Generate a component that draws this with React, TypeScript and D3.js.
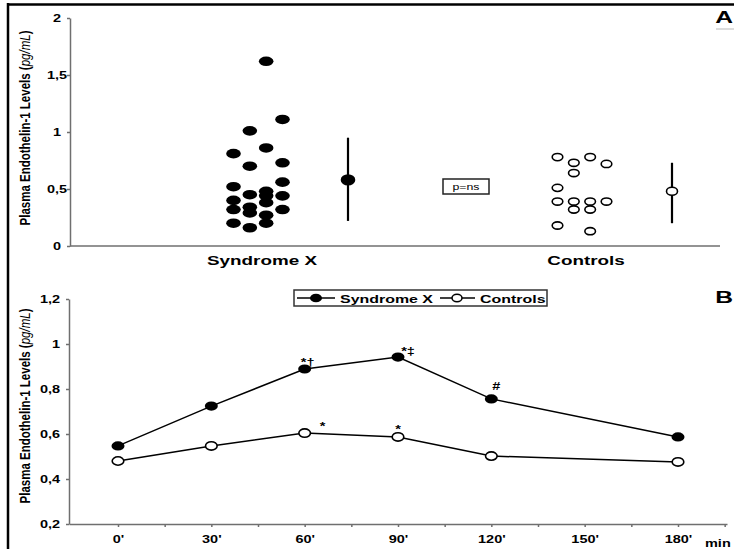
import React, { useEffect, useRef } from "react";
import * as d3 from "d3";

// panel A: individual values, grouped by the column each dot sits in
const categories = ["Syndrome X", "Controls"];
const syndromeXColumns = [
  [0.81, 0.52, 0.4, 0.32, 0.2],
  [1.01, 0.7, 0.45, 0.34, 0.29, 0.16],
  [1.62, 0.86, 0.48, 0.44, 0.38, 0.27, 0.2],
  [1.11, 0.73, 0.56, 0.44, 0.32],
];
const controlsColumns = [
  [0.78, 0.51, 0.39, 0.18],
  [0.73, 0.64, 0.39, 0.32],
  [0.78, 0.39, 0.32, 0.13],
  [0.72, 0.39],
];
const groupMeans = [0.58, 0.48];
const groupLow = [0.22, 0.2];
const groupHigh = [0.95, 0.73];
const topTicks = [0, 0.5, 1, 1.5, 2];

// panel B: time course
const minutes = [0, 30, 60, 90, 120, 180];
const syndromeXSeries = [0.547, 0.724, 0.889, 0.942, 0.756, 0.587];
const controlsSeries = [0.48, 0.547, 0.604, 0.587, 0.502, 0.476];
const syndromeXMarks = ["", "", "*†", "*‡", "#", ""];
const controlsMarks = ["", "", "*", "*", "", ""];
const bottomTicks = [0.2, 0.4, 0.6, 0.8, 1, 1.2];
const minuteTicks = d3.range(0, 196, 15);

const FONT = "'Liberation Sans', Arial, sans-serif";
const SX = 1.45; // the figure is stretched sideways
const AXIS = "#6f6f6f";

const App = () => {
  const ref = useRef<SVGSVGElement>(null);

  useEffect(() => {
    const svg = d3.select(ref.current);
    svg.selectAll("*").remove();
    svg.attr("font-family", FONT);

    const fmt = d3
      .formatLocale({ decimal: ",", thousands: ".", grouping: [3], currency: ["", ""] })
      .format("~g");

    const text = (x: number, y: number, s: string, size: number, anchor = "middle", weight = "bold") =>
      svg
        .append("text")
        .attr("transform", `translate(${x},${y}) scale(${SX},1)`)
        .attr("text-anchor", anchor)
        .attr("font-size", size)
        .attr("font-weight", weight)
        .attr("fill", "#000")
        .text(s);

    //frame
    svg.append("line").attr("x1", 7).attr("x2", 734).attr("y1", 4.5).attr("y2", 4.5).attr("stroke", "#000").attr("stroke-width", 2.5);
    svg.append("line").attr("x1", 8).attr("x2", 8).attr("y1", 3).attr("y2", 549).attr("stroke", "#000").attr("stroke-width", 2.5);

    // ---------- panel A ----------
    const yTop = d3.scaleLinear().domain([0, 2]).range([246, 18]);
    const xCat = d3.scalePoint().domain(categories).range([258, 582]);
    const xCol = d3.scalePoint<number>().domain(d3.range(4)).range([-24.5, 24.5]);

    const yAxisTop = svg
      .append("g")
      .attr("transform", "translate(70,0)")
      .call(d3.axisLeft(yTop).tickValues(topTicks).tickFormat((d) => fmt(d as number)).tickSize(3).tickSizeOuter(0));
    yAxisTop.selectAll("path, line").attr("stroke", AXIS).attr("stroke-width", 1.5);
    yAxisTop
      .selectAll(".tick text")
      .attr("transform", `scale(${SX},1)`)
      .attr("x", -13 / SX)
      .attr("text-anchor", "middle")
      .attr("font-size", 10)
      .attr("font-weight", "bold")
      .attr("font-family", FONT)
      .attr("fill", "#000");

    svg.append("line").attr("x1", 70).attr("x2", 720).attr("y1", 246).attr("y2", 246).attr("stroke", AXIS).attr("stroke-width", 1.5);

    categories.forEach((c) => text(xCat(c)! + 4, 265, c, 13));

    svg
      .append("g")
      .selectAll("ellipse")
      .data(syndromeXColumns.flatMap((col, i) => col.map((v) => ({ v, i }))))
      .join("ellipse")
      .attr("cx", (d) => xCat("Syndrome X")! + xCol(d.i)!)
      .attr("cy", (d) => yTop(d.v))
      .attr("rx", 7.3)
      .attr("ry", 4.8)
      .attr("fill", "#000");

    svg
      .append("g")
      .selectAll("ellipse")
      .data(controlsColumns.flatMap((col, i) => col.map((v) => ({ v, i }))))
      .join("ellipse")
      .attr("cx", (d) => xCat("Controls")! + xCol(d.i)!)
      .attr("cy", (d) => yTop(d.v))
      .attr("rx", 5.3)
      .attr("ry", 3.6)
      .attr("fill", "#fff")
      .attr("stroke", "#000")
      .attr("stroke-width", 1.6);

    categories.forEach((c, i) => {
      const mx = xCat(c)! + 90;
      svg.append("line").attr("x1", mx).attr("x2", mx).attr("y1", yTop(groupLow[i])).attr("y2", yTop(groupHigh[i])).attr("stroke", "#000").attr("stroke-width", 2.2);
      svg
        .append("ellipse")
        .attr("cx", mx)
        .attr("cy", yTop(groupMeans[i]))
        .attr("rx", i === 0 ? 6.5 : 5.5)
        .attr("ry", i === 0 ? 4.8 : 4)
        .attr("fill", i === 0 ? "#000" : "#fff")
        .attr("stroke", "#000")
        .attr("stroke-width", 1.6);
    });

    svg.append("rect").attr("x", 443).attr("y", 179).attr("width", 46).attr("height", 15).attr("fill", "none").attr("stroke", "#222").attr("stroke-width", 1.5);
    text(466, 190, "p=ns", 8.5, "middle", "normal");

    text(733, 23, "A", 17, "end");
    svg.append("line").attr("x1", 716).attr("x2", 734).attr("y1", 29).attr("y2", 29).attr("stroke", "#d0d0d0").attr("stroke-width", 1.5);

    // ---------- panel B ----------
    const xBot = d3.scaleLinear().domain([-15.75, 195.75]).range([69, 727]);
    const yBot = d3.scaleLinear().domain([0.2, 1.2]).range([524, 299]);

    const yAxisBot = svg
      .append("g")
      .attr("transform", "translate(69,0)")
      .call(d3.axisLeft(yBot).tickValues(bottomTicks).tickFormat((d) => fmt(d as number)).tickSize(3).tickSizeOuter(0));
    yAxisBot.selectAll("path, line").attr("stroke", AXIS).attr("stroke-width", 1.5);
    yAxisBot
      .selectAll(".tick text")
      .attr("transform", `scale(${SX},1)`)
      .attr("x", -9 / SX)
      .attr("font-size", 10)
      .attr("font-weight", "bold")
      .attr("font-family", FONT)
      .attr("fill", "#000");

    const xAxisBot = svg
      .append("g")
      .attr("transform", "translate(0,524)")
      .call(
        d3
          .axisBottom(xBot)
          .tickValues(minuteTicks)
          .tickFormat((d) => ((d as number) % 30 === 0 && (d as number) <= 180 ? `${d}'` : ""))
          .tickSize(3)
          .tickPadding(9)
          .tickSizeOuter(0)
      );
    xAxisBot.selectAll("path, line").attr("stroke", AXIS).attr("stroke-width", 1.5);
    xAxisBot
      .selectAll(".tick text")
      .attr("transform", `scale(${SX},1)`)
      .attr("font-size", 10)
      .attr("font-weight", "bold")
      .attr("font-family", FONT)
      .attr("fill", "#000");
    text(705, 547, "min", 10, "start");

    const line = d3
      .line<number>()
      .x((_, i) => xBot(minutes[i]))
      .y((d) => yBot(d));

    [syndromeXSeries, controlsSeries].forEach((series) => {
      svg.append("path").attr("d", line(series)).attr("fill", "none").attr("stroke", "#000").attr("stroke-width", 1.5);
    });

    svg
      .append("g")
      .selectAll("ellipse")
      .data(syndromeXSeries)
      .join("ellipse")
      .attr("cx", (_, i) => xBot(minutes[i]))
      .attr("cy", (d) => yBot(d))
      .attr("rx", 6.5)
      .attr("ry", 4.6)
      .attr("fill", "#000");

    svg
      .append("g")
      .selectAll("ellipse")
      .data(controlsSeries)
      .join("ellipse")
      .attr("cx", (_, i) => xBot(minutes[i]))
      .attr("cy", (d) => yBot(d))
      .attr("rx", 5.8)
      .attr("ry", 4.2)
      .attr("fill", "#fff")
      .attr("stroke", "#000")
      .attr("stroke-width", 1.6);

    // significance marks, nudged off their points
    const sxNudge = [[0, 0], [0, 0], [3, -3], [10, -2], [5, -9], [0, 0]];
    const ctNudge = [[0, 0], [0, 0], [18, -9], [0, -10], [0, 0], [0, 0]];
    syndromeXMarks.forEach((m, i) => {
      if (m) text(xBot(minutes[i]) + sxNudge[i][0], yBot(syndromeXSeries[i]) + sxNudge[i][1], m, 10);
    });
    controlsMarks.forEach((m, i) => {
      if (m) text(xBot(minutes[i]) + ctNudge[i][0], yBot(controlsSeries[i]) + ctNudge[i][1] + 6, m, 10);
    });

    // legend
    svg.append("rect").attr("x", 294).attr("y", 290).attr("width", 253).attr("height", 16).attr("fill", "#fff").attr("stroke", "#333").attr("stroke-width", 1.5);
    svg.append("line").attr("x1", 297).attr("x2", 335).attr("y1", 298).attr("y2", 298).attr("stroke", "#000").attr("stroke-width", 1.5);
    svg.append("ellipse").attr("cx", 316).attr("cy", 298).attr("rx", 6).attr("ry", 4.3).attr("fill", "#000");
    text(340, 302.5, "Syndrome X", 11, "start");
    svg.append("line").attr("x1", 440).attr("x2", 475).attr("y1", 298).attr("y2", 298).attr("stroke", "#000").attr("stroke-width", 1.5);
    svg.append("ellipse").attr("cx", 457).attr("cy", 298).attr("rx", 5).attr("ry", 3.8).attr("fill", "#fff").attr("stroke", "#000").attr("stroke-width", 1.5);
    text(480, 302.5, "Controls", 11, "start");

    text(733, 303, "B", 17, "end");

    // y titles
    [128, 406].forEach((cy) => {
      const t = svg
        .append("text")
        .attr("transform", `translate(25,${cy}) scale(${SX},1) rotate(-90)`)
        .attr("text-anchor", "middle")
        .attr("dy", "0.35em")
        .attr("font-size", 10)
        .attr("font-weight", "bold")
        .attr("fill", "#000")
        .attr("textLength", 195)
        .attr("lengthAdjust", "spacingAndGlyphs");
      t.append("tspan").text("Plasma Endothelin-1 Levels (");
      t.append("tspan").attr("font-style", "italic").attr("font-weight", "normal").text("pg/mL");
      t.append("tspan").text(")");
    });
  }, []);

  return (
    <svg
      ref={ref}
      width={734}
      height={549}
      style={{ position: "absolute", left: 0, top: 0, background: "#fff" }}
    />
  );
};

export default App;
